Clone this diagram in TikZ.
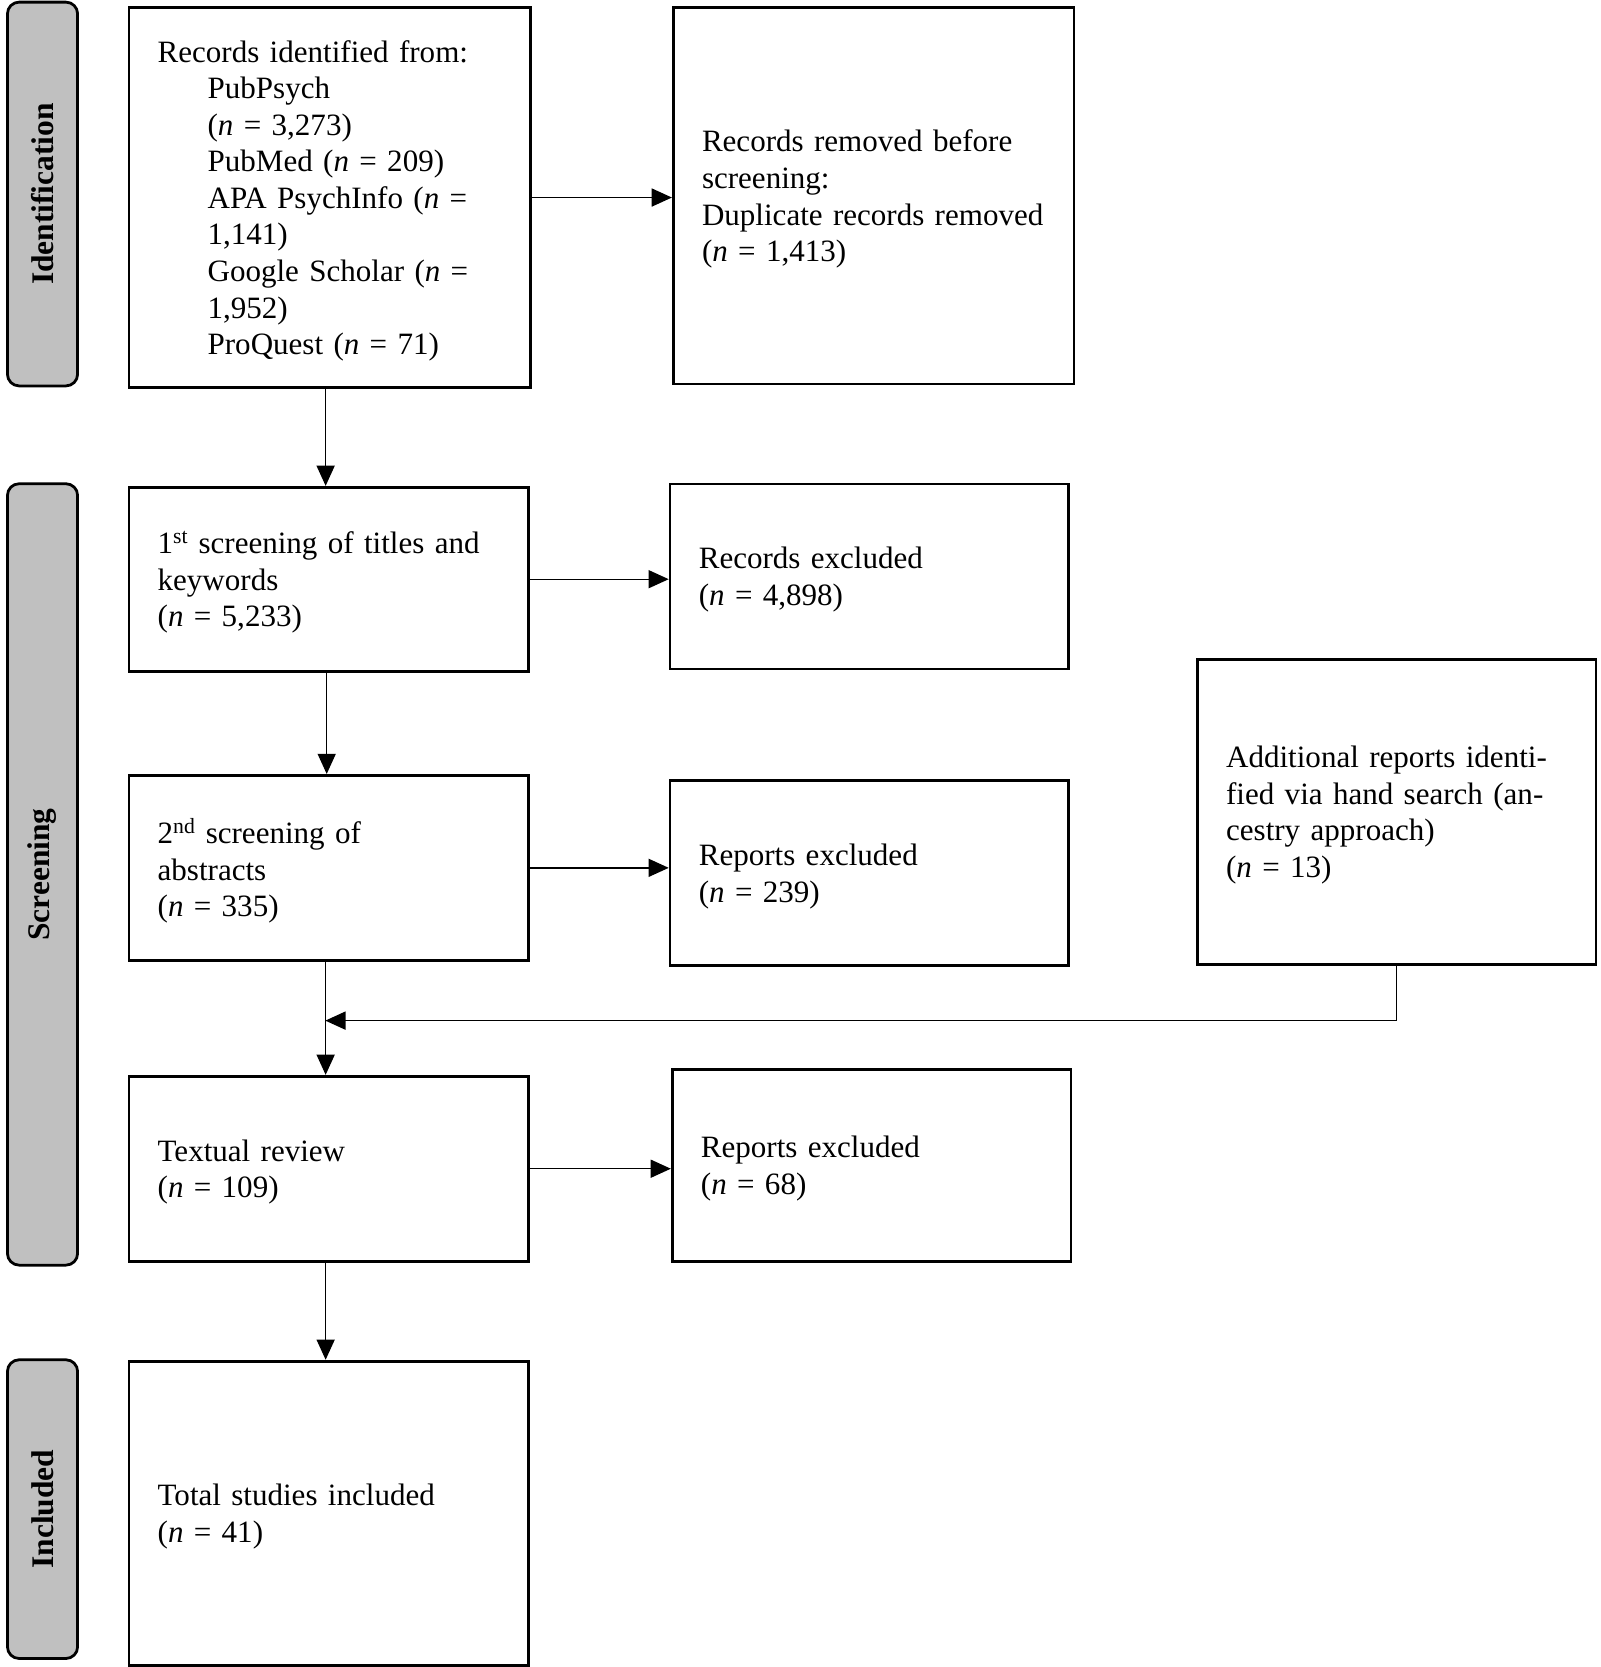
\documentclass[tikz,border=0pt]{standalone}
\usepackage{fontspec}
\setmainfont[WordSpace=0.85]{Liberation Serif}
\usetikzlibrary{arrows.meta}
\definecolor{tabgray}{RGB}{192,192,192}
\begin{document}
\begin{tikzpicture}[x=1pt,y=1pt,
  box/.style={draw, line width=2.6pt, inner xsep=27pt, inner ysep=0pt, align=left, anchor=north west, font=\fontsize{29.2}{34.4}\selectfont, execute at end node={\endgraf\kern-6pt}},
  tab/.style={draw, line width=2.6pt, fill=tabgray, rounded corners=11pt, rotate=90, inner sep=0pt, minimum height=66pt, font=\bfseries\fontsize{29.6}{34.4}\selectfont},
  arr/.style={line width=1.3pt, -{Triangle[length=19pt,width=17pt]}}]
\useasboundingbox (0,0) rectangle (1505,-1568);

% stage tabs
\node[tab, minimum width=361pt] (tid) at (40,-182.5) {Identification};
\node[tab, minimum width=735pt] (tsc) at (40,-822.5) {Screening};
\node[tab, minimum width=281pt] (tin) at (40,-1419.5) {Included};

% boxes
\node[box, text width=324pt, minimum height=357pt] (b1) at (120,-6) {\mbox{Records identified from:}\\
\hspace*{47pt}PubPsych\\
\hspace*{47pt}(\textit{n} = 3,273)\\
\hspace*{47pt}PubMed (\textit{n} = 209)\\
\hspace*{47pt}\mbox{APA PsychInfo (\textit{n} =}\\
\hspace*{47pt}1,141)\\
\hspace*{47pt}\mbox{Google Scholar (\textit{n} =}\\
\hspace*{47pt}1,952)\\
\hspace*{47pt}ProQuest (\textit{n} = 71)};

\node[box, text width=323pt, minimum height=354pt] (b2) at (632,-6) {\mbox{Records removed before}\\
screening:\\
\mbox{Duplicate records removed}\\
(\textit{n} = 1,413)};

\node[box, text width=322pt, minimum height=173pt] (b3) at (120,-457) {\mbox{1\textsuperscript{st} screening of titles and}\\
keywords\\
(\textit{n} = 5,233)};

\node[box, text width=321pt, minimum height=174pt] (b4) at (629,-454) {Records excluded\\
(\textit{n} = 4,898)};

\node[box, text width=322pt, minimum height=174pt] (b5) at (120,-728) {2\textsuperscript{nd} screening of\\
abstracts\\
(\textit{n} = 335)};

\node[box, text width=321pt, minimum height=174pt] (b6) at (629,-733) {Reports excluded\\
(\textit{n} = 239)};

\node[box, text width=321pt, minimum height=287pt] (b7) at (1125,-619) {\mbox{Additional reports identi-}\\
\mbox{fied via hand search (an-}\\
cestry approach)\\
(\textit{n} = 13)};

\node[box, text width=322pt, minimum height=174pt] (b8) at (120,-1011) {Textual review\\
(\textit{n} = 109)};

\node[box, text width=321pt, minimum height=180pt] (b9) at (631,-1005) {Reports excluded\\
(\textit{n} = 68)};

\node[box, text width=322pt, minimum height=286pt] (b10) at (120,-1279) {Total studies included\\
(\textit{n} = 41)};

% connectors
\draw[arr] (b1.east) -- (b1.east -| b2.west);
\draw[arr] ([xshift=-4pt]b1.south) -- ([xshift=-4pt]b1.south |- b3.north);
\draw[arr] ([xshift=-2pt]b3.south) -- ([xshift=-2pt]b3.south |- b5.north);
\draw[arr] (b3.east) -- (b3.east -| b4.west);
\draw[arr] (b5.east) -- (b5.east -| b6.west);
\draw[arr] ([xshift=-3pt]b5.south) -- ([xshift=-3pt]b5.south |- b8.north);
\coordinate (m) at (306,-960);
\draw[arr] (b7.south) |- (m);
\draw[arr] (b8.east) -- (b8.east -| b9.west);
\draw[arr] ([xshift=-3pt]b8.south) -- ([xshift=-3pt]b8.south |- b10.north);
\end{tikzpicture}
\end{document}
